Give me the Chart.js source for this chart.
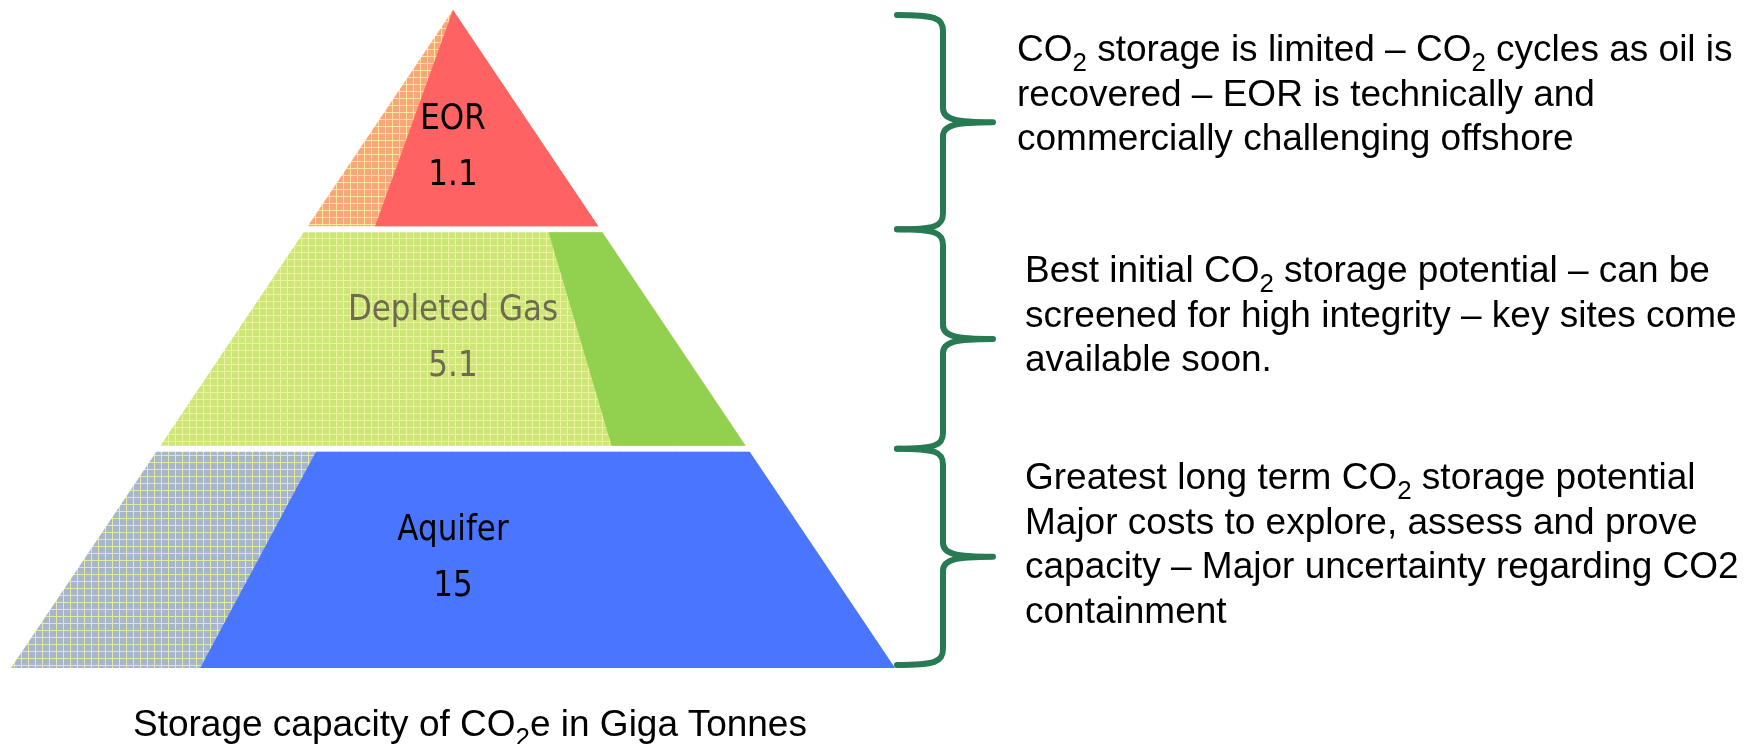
<!DOCTYPE html>
<html>
<head>
<meta charset="utf-8">
<script src="https://cdn.jsdelivr.net/npm/chart.js@4.4.1/dist/chart.umd.min.js"></script>
<style>
    body {
        margin: 0;
        width: 1754px;
        height: 744px;
        overflow: hidden;
        position: relative;
        background: #ffffff;
        font-family: "Liberation Sans", Arial, sans-serif;
    }
    #piramide {
        position: absolute;
        left: 0;
        top: 0;
    }
    .nota {
        position: absolute;
        font-size: 37px;
        line-height: 44.5px;
        white-space: nowrap;
        color: #000;
    }
    .nota sub {
        font-size: 70%;
        vertical-align: -0.4em;
        line-height: 0;
    }
</style>
</head>
<body>
<canvas id="piramide" width="1754" height="744"></canvas>

<div class="nota" style="left:1017px; top:27px;">
    CO<sub>2</sub> storage is limited – CO<sub>2</sub> cycles as oil is<br>
    recovered – EOR is technically and<br>
    commercially challenging offshore
</div>
<div class="nota" style="left:1025px; top:248px;">
    Best initial CO<sub>2</sub> storage potential – can be<br>
    screened for high integrity – key sites come<br>
    available soon.
</div>
<div class="nota" style="left:1025px; top:455px;">
    Greatest long term CO<sub>2</sub> storage potential<br>
    Major costs to explore, assess and prove<br>
    capacity – Major uncertainty regarding CO2<br>
    containment
</div>
<div class="nota" style="left:133px; top:702px;">
    Storage capacity of CO<sub>2</sub>e in Giga Tonnes
</div>

<script>
// ============================
// DADOS
// ============================
const camadas = ["EOR", "Depleted Gas", "Aquifer"];
const capacidade = [1.1, 5.1, 15];

// ============================
// ESTILO
// ============================
const corSolida = ["#ff6262", "#92d050", "#4a76ff"];
const corHachura = ["#f9a67c", "#cde679", "#a7b7cb"];
const corGrade = ["#fde59a", "#eff39e", "#e6e9a2"];
const corTexto = ["#000000", "#6f6b52", "#000000"];
const divisaoTopo = [0.5, 0.82, 0.269];   // fração da largura onde começa a face sólida
const divisaoBase = [0.232, 0.771, 0.214];
const ajusteRotulo = [28, 0, 0];
const corChave = "#287a52";

function hachura(ctx, base, linha) {
    const c = document.createElement("canvas");
    c.width = 7;
    c.height = 7;
    const g = c.getContext("2d");
    g.fillStyle = base;
    g.fillRect(0, 0, 7, 7);
    g.fillStyle = linha;
    g.fillRect(0, 0, 7, 1);
    g.fillRect(0, 0, 1, 7);
    return ctx.createPattern(c, "repeat");
}

function poligono(ctx, pts, fill) {
    ctx.beginPath();
    ctx.moveTo(pts[0][0], pts[0][1]);
    for (let k = 1; k < pts.length; k++) ctx.lineTo(pts[k][0], pts[k][1]);
    ctx.closePath();
    ctx.fillStyle = fill;
    ctx.fill();
}

// ============================
// PIRÂMIDE
// ============================
const pluginPiramide = {
    id: "piramide",
    beforeDatasetsDraw(chart) {
        const ctx = chart.ctx;
        const x = chart.scales.x;
        const y = chart.scales.y;
        const n = camadas.length;
        const meia = (py) => (n - y.getValueForPixel(py)) / n;

        camadas.forEach((nome, i) => {
            let topo = y.getPixelForValue(n - i);
            let base = y.getPixelForValue(n - i - 1);
            if (i > 0) topo += 3;
            if (i < n - 1) base -= 3;

            const tl = x.getPixelForValue(-meia(topo));
            const tr = x.getPixelForValue(meia(topo));
            const bl = x.getPixelForValue(-meia(base));
            const br = x.getPixelForValue(meia(base));
            const dt = tl + divisaoTopo[i] * (tr - tl);
            const db = bl + divisaoBase[i] * (br - bl);

            ctx.save();
            poligono(ctx, [[tl, topo], [tr, topo], [br, base], [bl, base]], hachura(ctx, corHachura[i], corGrade[i]));
            poligono(ctx, [[dt, topo], [tr, topo], [br, base], [db, base]], corSolida[i]);
            ctx.restore();
        });
    },
    afterDatasetsDraw(chart) {
        const ctx = chart.ctx;
        const pontos = chart.getDatasetMeta(0).data;
        camadas.forEach((nome, i) => {
            const p = pontos[i];
            const cy = p.y + ajusteRotulo[i];
            ctx.save();
            ctx.fillStyle = corTexto[i];
            ctx.font = "31px 'DejaVu Sans'";
            ctx.textAlign = "center";
            ctx.textBaseline = "middle";
            [[nome, cy - 28], [String(capacidade[i]), cy + 28]].forEach(([t, ty]) => {
                ctx.save();
                ctx.translate(p.x, ty);
                ctx.scale(1, 1.15);
                ctx.fillText(t, 0, 0);
                ctx.restore();
            });
            ctx.restore();
        });
    }
};

// ============================
// CHAVES
// ============================
const pluginChaves = {
    id: "chaves",
    afterDraw(chart) {
        const ctx = chart.ctx;
        const y = chart.scales.y;
        const area = chart.chartArea;
        const n = camadas.length;
        const ponta = area.right + 2;
        const eixo = area.right + 48;
        const bico = area.right + 98;

        ctx.save();
        ctx.strokeStyle = corChave;
        ctx.lineWidth = 6;
        ctx.lineCap = "round";
        ctx.lineJoin = "round";
        for (let i = 0; i < n; i++) {
            let a = y.getPixelForValue(n - i);
            let b = y.getPixelForValue(n - i - 1);
            if (i === 0) a += 5;
            if (i === n - 1) b -= 3;
            const m = (a + b) / 2;

            ctx.beginPath();
            ctx.moveTo(ponta, a);
            ctx.bezierCurveTo(eixo - 8, a, eixo, a + 3, eixo, a + 16);
            ctx.lineTo(eixo, m - 14);
            ctx.bezierCurveTo(eixo, m - 3, eixo + 12, m, bico, m);
            ctx.moveTo(bico, m);
            ctx.bezierCurveTo(eixo + 12, m, eixo, m + 3, eixo, m + 14);
            ctx.lineTo(eixo, b - 16);
            ctx.bezierCurveTo(eixo, b - 3, eixo - 8, b, ponta, b);
            ctx.stroke();
        }
        ctx.restore();
    }
};

// ============================
// GRÁFICO
// ============================
new Chart(document.getElementById("piramide"), {
    type: "scatter",
    data: {
        datasets: [{
            data: camadas.map((_, i) => ({ x: 0, y: camadas.length - i - 0.5 })),
            pointRadius: 0
        }]
    },
    options: {
        responsive: false,
        animation: false,
        layout: { padding: { left: 11, right: 859, top: 10, bottom: 76 } },
        scales: {
            x: { display: false, min: -1, max: 1 },
            y: { display: false, min: 0, max: camadas.length }
        },
        plugins: {
            legend: { display: false },
            tooltip: { enabled: false }
        }
    },
    plugins: [pluginPiramide, pluginChaves]
});
</script>
</body>
</html>
